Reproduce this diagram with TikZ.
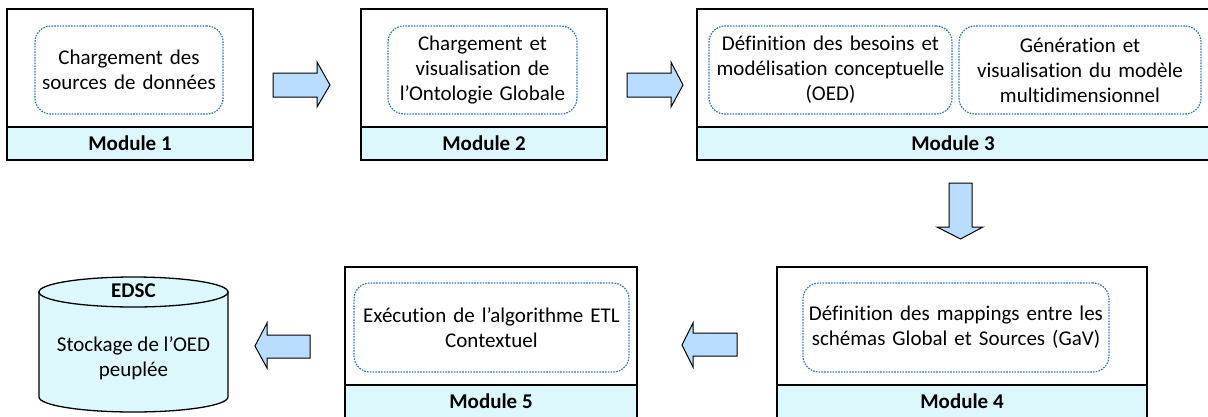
\documentclass[tikz,border=0pt]{standalone}
\usepackage{fontspec}
\setmainfont{Carlito}[Ligatures=NoCommon]
\usetikzlibrary{shapes.geometric}
\definecolor{bandfill}{RGB}{221,248,252}
\definecolor{arrowfill}{RGB}{185,220,255}
\definecolor{dotblue}{RGB}{46,117,190}
\begin{document}
\begin{tikzpicture}[x=1pt,y=-1pt,
  outerbox/.style={draw=black,line width=1.3pt,minimum width=#1,minimum height=151pt,inner sep=0pt},
  band/.style={draw=black,line width=1.3pt,fill=bandfill,minimum width=#1,minimum height=33pt,inner sep=0pt,font=\fontsize{21}{25}\selectfont\bfseries},
  inbox/.style={draw=dotblue,line width=1.2pt,dash pattern=on 1.6pt off 1.2pt,rounded corners=16pt,minimum height=88pt,inner sep=0pt,align=center,font=\fontsize{21}{25}\selectfont},
  blockarrow/.style={draw=black,line width=1pt,fill=arrowfill,line join=miter}]
\useasboundingbox (0,0) rectangle (1208,416);
\clip (0,0) rectangle (1208,416);
% Module 1
\node[outerbox=246pt] (m1) at (130,84.5) {};
\node[band=246pt] (b1) at (130,143.5) {Module 1};
\node[inbox,minimum width=188pt,text width=186pt] (i1) at (129,70) {Chargement des\\sources de données};
% Module 2
\node[outerbox=246pt] (m2) at (484,84.5) {};
\node[band=246pt] (b2) at (484,143.5) {Module 2};
\node[inbox,minimum width=189pt,text width=187pt] (i2) at (482.5,70) {Chargement et\\visualisation de\\l’Ontologie Globale};
% Module 3
\node[outerbox=512pt] (m3) at (953,84.5) {};
\node[band=512pt] (b3) at (953,143.5) {Module 3};
\node[inbox,minimum width=243pt,text width=241pt] (i3a) at (830.5,70) {Définition des besoins et\\modélisation conceptuelle\\(OED)};
\node[inbox,minimum width=242pt,text width=240pt] (i3b) at (1080,70) {Génération et\\visualisation du modèle\\multidimensionnel};
% Module 4
\node[outerbox=370pt] (m4) at (962,342.5) {};
\node[band=370pt] (b4) at (962,401.5) {Module 4};
\node[inbox,minimum width=306pt,minimum height=89pt,text width=304pt] (i4) at (956,327.5) {Définition des mappings entre les\\schémas Global et Sources (GaV)};
% Module 5
\node[outerbox=292pt] (m5) at (491,342.5) {};
\node[band=292pt] (b5) at (491,401.5) {Module 5};
\node[inbox,minimum width=275pt,minimum height=89pt,text width=273pt] (i5) at (491.5,327.5) {Exécution de l’algorithme ETL\\Contextuel};
% Cylinder EDSC
\path[draw=black,line width=1.3pt,fill=bandfill]
  (39,292) -- (39,397) arc[start angle=180,end angle=360,x radius=94.5pt,y radius=15pt]
  -- (228,292) -- cycle;
\draw[line width=1.3pt,fill=bandfill] (133.5,292) ellipse[x radius=94.5pt,y radius=15pt];
\node[font=\fontsize{21}{25}\selectfont\bfseries] (edsc) at (133.5,291) {EDSC};
\node[align=center,font=\fontsize{21}{25}\selectfont] (stock) at (133.5,358) {Stockage de l’OED\\peuplée};
% Block arrows
\draw[blockarrow] (273,73) -- (317,73) -- (317,62) -- (330,85) -- (317,107) -- (317,97) -- (273,97) -- cycle;
\draw[blockarrow] (627,73) -- (671,73) -- (671,62) -- (683,85) -- (671,107) -- (671,97) -- (627,97) -- cycle;
\draw[blockarrow] (949,183) -- (972,183) -- (972,227) -- (983,227) -- (960.5,239) -- (937,227) -- (949,227) -- cycle;
\draw[blockarrow] (737,333) -- (693,333) -- (693,323) -- (682,345) -- (693,367) -- (693,356) -- (737,356) -- cycle;
\draw[blockarrow] (310,335) -- (267,335) -- (267,323) -- (255,346) -- (267,368) -- (267,358) -- (310,358) -- cycle;
\end{tikzpicture}
\end{document}
